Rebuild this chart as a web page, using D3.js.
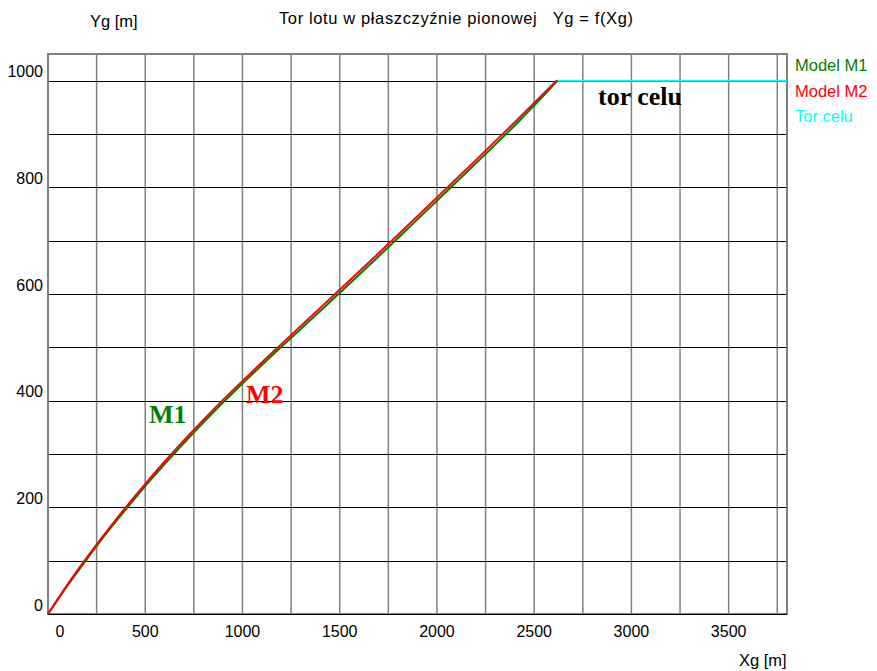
<!DOCTYPE html>
<html>
<head>
<meta charset="utf-8">
<script src="https://cdn.jsdelivr.net/npm/d3@7"></script>
<style>
  body { margin: 0; background: #fff; }
  svg text { font-family: "Liberation Sans", Arial, sans-serif; }
</style>
</head>
<body>
<div id="chart"></div>
<script>
// Tor lotu (Xg, Yg in metres)
var model1 = [
  [0, 0], [100, 53], [200, 103], [300, 151], [400, 196], [500, 240],
  [600, 281], [700, 321], [800, 359.5], [900, 396.5], [1000, 432],
  [1200, 501], [1400, 568], [1600, 636], [1800, 705], [2000, 775],
  [2200, 845], [2400, 916], [2600, 992], [2620, 1000]
];
var model2 = [
  [0, 0], [100, 55], [200, 106], [300, 154], [400, 200], [500, 244],
  [600, 286], [700, 326], [800, 364.5], [900, 401.5], [1000, 437],
  [1200, 506], [1400, 574], [1600, 642], [1800, 711], [2000, 781],
  [2200, 851], [2400, 922], [2615, 1000]
];
var torCelu = [[2615, 1000], [3800, 1000]];

var xTicks = [0, 500, 1000, 1500, 2000, 2500, 3000, 3500];
var yTicks = [0, 200, 400, 600, 800, 1000];
var xGrid = d3.range(250, 3800, 250);
var yGrid = d3.range(0, 1001, 100);

var legend = [
  {name: "Model M1", color: "#008000"},
  {name: "Model M2", color: "#ff0000"},
  {name: "Tor celu", color: "#00ffff"}
];

var W = 877, H = 671;
var plotL = 48, plotR = 787, plotT = 54, plotB = 614;

var x = d3.scaleLinear().domain([0, 3800]).range([plotL, plotR]);
var y = d3.scaleLinear().domain([0, 1050]).range([plotB, plotT]);

var svg = d3.select("#chart").append("svg")
  .attr("width", W)
  .attr("height", H);

// grid
svg.append("g").selectAll("line")
  .data(xGrid).enter().append("line")
  .attr("x1", function(d) { return x(d); })
  .attr("x2", function(d) { return x(d); })
  .attr("y1", plotT).attr("y2", plotB)
  .attr("stroke", "#808080").attr("stroke-width", 1.5);

svg.append("g").selectAll("line")
  .data(yGrid).enter().append("line")
  .attr("x1", plotL).attr("x2", plotR)
  .attr("y1", function(d) { return Math.round(y(d)) + 0.5; })
  .attr("y2", function(d) { return Math.round(y(d)) + 0.5; })
  .attr("stroke", "#000").attr("stroke-width", 1);

// frame
svg.append("rect")
  .attr("x", plotL).attr("y", plotT)
  .attr("width", plotR - plotL).attr("height", plotB - plotT)
  .attr("fill", "none").attr("stroke", "#808080").attr("stroke-width", 2);
svg.append("line")
  .attr("x1", plotL).attr("x2", plotR)
  .attr("y1", plotB + 0.5).attr("y2", plotB + 0.5)
  .attr("stroke", "#000");

// tick labels
svg.append("g").selectAll("text")
  .data(yTicks).enter().append("text")
  .attr("x", 43)
  .attr("y", function(d) { return y(d) - 3.5; })
  .attr("text-anchor", "end")
  .style("font-size", "16px")
  .text(function(d) { return d; });

svg.append("g").selectAll("text")
  .data(xTicks).enter().append("text")
  .attr("x", function(d) { return d === 0 ? x(d) + 12 : x(d); })
  .attr("y", 637)
  .attr("text-anchor", "middle")
  .style("font-size", "16px")
  .text(function(d) { return d; });

// titles
svg.append("text")
  .attr("x", 90).attr("y", 27)
  .style("font-size", "16.5px")
  .text("Yg [m]");

svg.append("text")
  .attr("x", 279).attr("y", 24)
  .style("font-size", "16.5px")
  .style("white-space", "pre")
  .attr("textLength", 354)
  .text("Tor lotu w płaszczyźnie pionowej   Yg = f(Xg)");

svg.append("text")
  .attr("x", 739).attr("y", 666)
  .style("font-size", "16.5px")
  .text("Xg [m]");

// lines
var line = d3.line()
  .x(function(d) { return x(d[0]); })
  .y(function(d) { return y(d[1]); })
  .curve(d3.curveMonotoneX);

svg.append("path").datum(torCelu)
  .attr("d", line).attr("fill", "none")
  .attr("stroke", "#00ffff").attr("stroke-width", 2);

svg.append("path").datum(model1)
  .attr("d", line).attr("fill", "none")
  .attr("stroke", "#008000").attr("stroke-width", 2);

svg.append("path").datum(model2)
  .attr("d", line).attr("fill", "none")
  .attr("stroke", "#ff0000").attr("stroke-width", 2);

// in-plot labels
svg.append("text")
  .attr("x", 149).attr("y", 423)
  .style("font-family", "'Liberation Serif', 'Times New Roman', serif")
  .style("font-weight", "bold").style("font-size", "26px")
  .attr("fill", "#008000")
  .text("M1");

svg.append("text")
  .attr("x", 246).attr("y", 403)
  .style("font-family", "'Liberation Serif', 'Times New Roman', serif")
  .style("font-weight", "bold").style("font-size", "26px")
  .attr("fill", "#ff0000")
  .text("M2");

svg.append("text")
  .attr("x", 598).attr("y", 105)
  .style("font-family", "'Liberation Serif', 'Times New Roman', serif")
  .style("font-weight", "bold").style("font-size", "26px")
  .attr("fill", "#000")
  .text("tor celu");

// legend
svg.append("g").selectAll("text")
  .data(legend).enter().append("text")
  .attr("x", 795)
  .attr("y", function(d, i) { return 71 + i * 25.5; })
  .style("font-size", "16.5px")
  .attr("fill", function(d) { return d.color; })
  .text(function(d) { return d.name; });
</script>
</body>
</html>
